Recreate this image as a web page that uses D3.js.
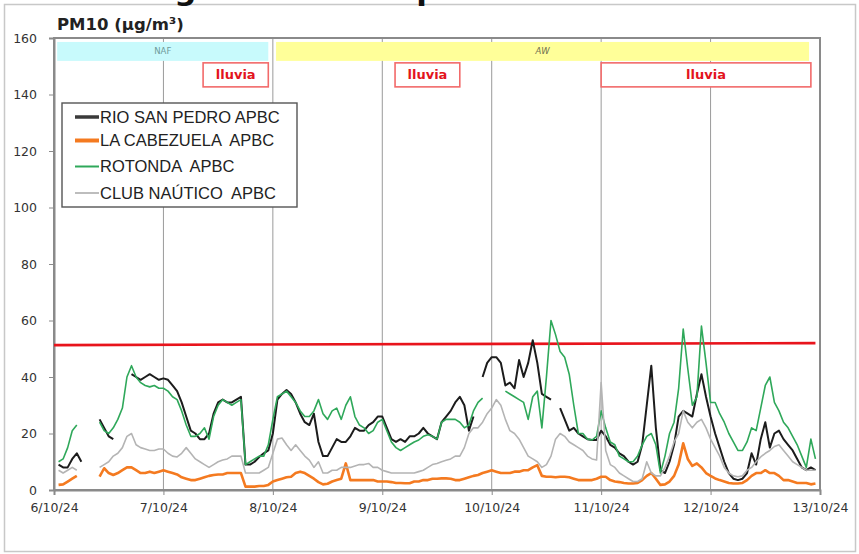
<!DOCTYPE html>
<html><head><meta charset="utf-8">
<script src="https://cdn.jsdelivr.net/npm/d3@7"></script>
<style>
html,body{margin:0;padding:0;background:#fff;}
text{white-space:pre;}
</style></head>
<body>
<svg id="c" width="859" height="554"></svg>
<script>
// ---------- DATA ----------
const startDate = new Date(2024, 9, 6, 0, 0);
const endDate = new Date(2024, 9, 13, 0, 0);
const xTickDates = ["2024-10-06","2024-10-07","2024-10-08","2024-10-09","2024-10-10","2024-10-11","2024-10-12","2024-10-13"];
const xTickLabels = ["6/10/24","7/10/24","8/10/24","9/10/24","10/10/24","11/10/24","12/10/24","13/10/24"];
const yTicks = [0,20,40,60,80,100,120,140,160];
const seriesNames = ["RIO SAN PEDRO APBC","LA CABEZUELA  APBC","ROTONDA  APBC","CLUB NAÚTICO  APBC"];
const pageTitle = "Seguimiento de partículas";

// hourly values (µg/m³), index = hours since 6/10/24 00:00
const rioSanPedro = [
null,9,8,8,11,13,10,null,null,null,
25,22,19,18,null,null,null,41,40,39,
40,41,40,39,39.5,39,37,35,31,26,
21,20,18,18,20,27,31,32,31,31,
32,33,9,9,10,11.7,13,14,20,32,
34,35.4,34,31,27,24,23,27,17,12,
12,15,18,17,17,19,22,21,21,23,
24,26,26,22,18,17,18,17,19,19,
20,22,20,19,18,24,26,28,31,33,
30,21,26,null,40,45,47,47,45,37,
38,36,46,40,45,53,45,34,33,32,
null,29,25,21,22,20,19,18,17.7,17.7,
21,19,16,15,13,12,10,9,10,16,
30,44,22,7,6,10,16,26,28,27,
26,34,41,33,26,20,15,10,6,4,
3.5,4,6,13,9,18,24,15,20,21,
18,16,14,11,8,7,8,7
];
const laCabezuela = [
null,1.8,2,3,4,5,null,null,null,null,
4.7,7.7,6,5.3,6,7,8,8,7,6,
6,6.5,6,6.5,7,6.5,6,5.5,4.5,4,
3.5,3.5,4,4.5,5,5.3,5.5,5.5,6,6,
6,6,1.2,1.2,1.2,1.4,1.4,1.8,3,3.5,
4,4.5,4.7,6,6.5,6,5,4,2.8,2,
2.2,3,3.5,4,9.4,3.5,3.5,3.5,3.5,3.5,
3.5,3,3,3,2.8,2.5,2.5,2.4,2.4,3,
3,3.5,3.5,4,4,4.1,4.1,4,3.5,3.5,
4,4.5,5,5.3,6,6.5,7,6.5,6,6,
6,6.5,6.5,7,7,8,8.8,5,4.7,4.7,
4.5,4.7,4.7,4.5,4,3.5,3.5,3.5,3.5,4,
4.7,4.7,3.5,3,2.8,2.5,2.3,2.3,2.5,3.5,
5,6,4,1.8,2,3,5,9,16.5,11,
8.5,9.4,8,6,5,4.1,3.5,3,2.5,2.3,
2.3,2.5,3.5,5,6,6,7,6,6,5,
3.5,3.5,3,2.5,2.5,2.5,2,2.3
];
const rotonda = [
null,10,11,15,21,23,null,null,null,null,
24,21,20,22,25,29,40,44,40,38,
37,36.5,37,36,36,35,33,32,28,23,
19,19,20,22,18,26,30,32,31,30,
31,32,9,10,11,12,12,16,25,33,
34,35,33,31,28,26,26,28,32,27,
25,28,29,25,30,33,26,23,22,20,
21,24,25,21,17,15,14,15,16,17,
17.7,19,19.6,19,18,24,25,25,25,24,
22,23,28,31,32.5,null,null,null,null,35,
34,33,32,31,25,33,35,22,40,60,
55,49,47,41,30,20,20,18,17.7,19,
28,22,17,16,12,11,10,10,12,16,
19,20,16,6,12,20,24,36,57,43,
30,33,58,45,31,31,27,24,20,17,
14,14,17,22,21,29,37,40,31,28,
24,22,19,16,12,8,18,11
];
const clubNautico = [
null,7,6,7,8,7,null,null,null,null,
8,9,10,12,13,15,19,20,16,15,
14.5,14,14,14.5,14.5,13,12,11.7,13,15,
13,11,10,9,8,9,10,10.6,11,12,
12,12,6,6,6,6,7,8,13,18,
18.4,16,14,16,14,12,10.6,8,10,6,
6,7,7,8,8,8,8.5,9,9,9.4,
8,8,7,6.5,6,6,6,6,6,6,
6.5,7,8,9,9.4,10,10.5,11,12,12,
15,20,22,22,24,27,29,32,30,25,
21,20,18,15,12,11,10,8,9,12,
18,20,19,17,16,15,14,12,11,10.6,
38,14,9,8,6,5,4,3,3,4,
10,6,5,5,8,12,17,20,28,24,
22,24,25,22,18,15,12,8,6,5,
4.7,5,7,8,10,11.7,13,14,15.4,16,
14,12,10,9,8,7,7,7
];
// limit line (start/end values)
const limitHours = [0, 167];
const limitValues = [51.3, 52.0];

// annotation bands (hours since start; value range)
const bandLabels = ["NAF","AW"];
const bandStart = [0.7, 48.7];
const bandEnd = [47, 165.6];
const bandColors = ["#c8fafc","#ffff99"];
const bandLow = 151.9, bandHigh = 158.6;
const rainLabel = "lluvia";
const rainStart = [32.7, 74.8, 120];
const rainEnd = [47, 89, 166];
const rainLow = 142.7, rainHigh = 151.2;

// ---------- CHART ----------
const svg = d3.select("#c");
const W = 859, H = 554;
const L = 54, R = 820, T = 38, B = 490;
const x = d3.scaleTime().domain([startDate, endDate]).range([L, R]);
const y = d3.scaleLinear().domain([0, 160]).range([B, T]);
const tOf = h => d3.timeMinute.offset(startDate, Math.round(h * 60));

svg.append("rect").attr("width", W).attr("height", H).attr("fill", "#fff");
svg.append("rect").attr("x", 4.5).attr("y", 4.5).attr("width", 851).attr("height", 547)
  .attr("fill", "#fff").attr("stroke", "#c8c8c8").attr("stroke-width", 1.5);

// page title (cropped by the top edge; only descenders visible as in the source)
svg.append("text").attr("x", 131).attr("y", 0).attr("font-family", "DejaVu Sans")
  .attr("font-weight", "bold").attr("font-size", 31).attr("fill", "#111").text(pageTitle);

// vertical grid
const tickDates = xTickDates.map(s => { const p = s.split("-"); return new Date(+p[0], +p[1]-1, +p[2]); });
svg.append("g").selectAll("line").data(tickDates).join("line")
  .attr("x1", d => x(d)).attr("x2", d => x(d)).attr("y1", T).attr("y2", B)
  .attr("stroke", "#9a9a9a").attr("stroke-width", 1);

// bands
bandLabels.forEach((lab, i) => {
  const x0 = x(tOf(bandStart[i])), x1 = x(tOf(bandEnd[i]));
  svg.append("rect").attr("x", x0).attr("y", y(bandHigh)).attr("width", x1 - x0)
    .attr("height", y(bandLow) - y(bandHigh)).attr("fill", bandColors[i]);
  svg.append("text").attr("x", (x0 + x1) / 2).attr("y", (y(bandLow) + y(bandHigh)) / 2 + 3)
    .attr("text-anchor", "middle").attr("font-family", "DejaVu Sans").attr("font-size", 8.5)
    .attr("font-style", i === 1 ? "italic" : "normal")
    .attr("fill", i === 0 ? "#6e9a9a" : "#707050").text(lab);
});
// rain boxes
rainStart.forEach((s, i) => {
  const x0 = x(tOf(s)), x1 = x(tOf(rainEnd[i]));
  svg.append("rect").attr("x", x0).attr("y", y(rainHigh)).attr("width", x1 - x0)
    .attr("height", y(rainLow) - y(rainHigh)).attr("fill", "#fff")
    .attr("stroke", "#f26a6a").attr("stroke-width", 1.6);
  svg.append("text").attr("x", (x0 + x1) / 2).attr("y", (y(rainLow) + y(rainHigh)) / 2 + 4.5)
    .attr("text-anchor", "middle").attr("font-family", "DejaVu Sans").attr("font-weight", "bold")
    .attr("font-size", 13).attr("fill", "#e3141c").text(rainLabel);
});

// frame
svg.append("rect").attr("x", L).attr("y", T).attr("width", R - L).attr("height", B - T)
  .attr("fill", "none").attr("stroke", "#8a8a8a").attr("stroke-width", 2);

// axes
const yAxis = svg.append("g").attr("transform", `translate(${L},0)`)
  .call(d3.axisLeft(y).tickValues(yTicks).tickSize(5).tickPadding(12).tickFormat(d3.format("d")));
yAxis.select(".domain").attr("stroke", "#8a8a8a").attr("stroke-width", 2);
yAxis.selectAll(".tick line").attr("stroke", "#8a8a8a");
yAxis.selectAll("text").attr("font-family", "DejaVu Sans").attr("font-size", 12.5).attr("fill", "#333");

const xAxis = svg.append("g").attr("transform", `translate(0,${B})`)
  .call(d3.axisBottom(x).tickValues(tickDates).tickSize(5).tickPadding(8)
    .tickFormat((d, i) => xTickLabels[i]));
xAxis.select(".domain").attr("stroke", "#8a8a8a").attr("stroke-width", 2);
xAxis.selectAll(".tick line").attr("stroke", "#8a8a8a");
xAxis.selectAll("text").attr("font-family", "DejaVu Sans").attr("font-size", 12.5).attr("fill", "#333");

// axis title
svg.append("text").attr("x", 57).attr("y", 30).attr("font-family", "DejaVu Sans")
  .attr("font-weight", "bold").attr("font-size", 16.5).attr("fill", "#222").text("PM10 (µg/m³)");

// limit line
svg.append("line").attr("x1", x(tOf(limitHours[0]))).attr("x2", x(tOf(limitHours[1])))
  .attr("y1", y(limitValues[0])).attr("y2", y(limitValues[1]))
  .attr("stroke", "#e8141c").attr("stroke-width", 2.6);

// series
const allSeries = [
  {name: seriesNames[0], vals: rioSanPedro, color: "#1c1c1c", w: 2},
  {name: seriesNames[1], vals: laCabezuela, color: "#f47a20", w: 2.6},
  {name: seriesNames[2], vals: rotonda, color: "#2fa85a", w: 1.6},
  {name: seriesNames[3], vals: clubNautico, color: "#b4b4b4", w: 1.6}
];
const line = d3.line().defined(d => d.v != null).x(d => x(d.t)).y(d => y(d.v));
allSeries.forEach(s => {
  const pts = s.vals.map((v, i) => ({t: d3.timeHour.offset(startDate, i), v}));
  svg.append("path").datum(pts).attr("d", line).attr("fill", "none")
    .attr("stroke", s.color).attr("stroke-width", s.w).attr("stroke-linejoin", "round");
});

// legend
const lg = svg.append("g");
lg.append("rect").attr("x", 62).attr("y", 103).attr("width", 235).attr("height", 104)
  .attr("fill", "#fff").attr("stroke", "#555").attr("stroke-width", 1.4);
const legW = [3.5, 4, 2, 2];
const legC = ["#3a3a3a", "#f47a20", "#2fa85a", "#bdbdbd"];
const rowY = [117, 140.5, 166.5, 193];
allSeries.forEach((s, i) => {
  lg.append("line").attr("x1", 75).attr("x2", 99).attr("y1", rowY[i]).attr("y2", rowY[i])
    .attr("stroke", legC[i]).attr("stroke-width", legW[i]);
  lg.append("text").attr("x", 100).attr("y", rowY[i] + 5.5).attr("font-family", "Liberation Sans")
    .attr("font-size", 16.5).attr("fill", "#222").text(s.name);
});
</script>
</body></html>
